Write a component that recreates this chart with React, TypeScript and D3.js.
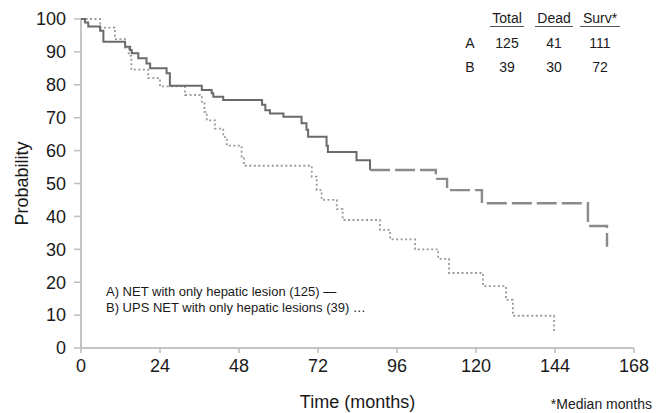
import React from "react";
import * as d3 from "d3";

// ---- data (months, survival %) ----
const seriesA: [number, number][] = [
  [0, 100], [1.2, 98.9], [2.2, 97.7], [5.8, 96.4], [6.8, 93.1], [13.4, 91.6], [14.9, 90.6],
  [15.4, 89.6], [17.4, 88.1], [19.9, 86.5], [21, 85.0], [26, 83.5], [27, 79.7], [36.7, 78.4],
  [39.7, 77.4], [40.2, 76.4], [43.2, 75.4], [55, 73.9], [56, 72.3], [57.4, 71.3], [61.5, 70.3],
  [67, 68.3], [68.5, 66.3], [69, 64.2], [74.6, 61.5], [75, 59.6], [83.7, 57.1], [87.8, 54.1],
];
const seriesA2: [number, number][] = [
  [87.8, 54.1], [107.8, 51.4], [111.2, 48.0], [121.8, 44.0], [154, 37.1], [159.8, 30.8],
];
const seriesB: [number, number][] = [
  [0, 100], [5.8, 97.4], [10.3, 93.9], [13.4, 91.3], [14.5, 88.8], [15.3, 84.6], [20.4, 82.0],
  [24, 79.5], [31.6, 76.9], [36.7, 74.4], [37.5, 71.8], [38.2, 69.2], [40.7, 66.7], [43.2, 64.1],
  [44.3, 61.5], [48.8, 58.2], [49.5, 55.4], [70.1, 52.1], [71.6, 48.0], [73.1, 45.0], [77.7, 42.2],
  [79.5, 38.9], [90.8, 35.9], [93.9, 33.0], [101.5, 30.0], [108.5, 27.1], [111.8, 22.8],
  [122.1, 18.8], [129.1, 14.6], [131.2, 9.8], [143.7, 4.7],
];
const xTicks = [0, 24, 48, 72, 96, 120, 144, 168];
const yTicks = [0, 10, 20, 30, 40, 50, 60, 70, 80, 90, 100];
const tableHeaders = ["Total", "Dead", "Surv*"];
const tableRows = [
  { label: "A", values: ["125", "41", "111"] },
  { label: "B", values: ["39", "30", "72"] },
];
const legendLines = [
  "A) NET with only hepatic lesion (125) \u2014",
  "B) UPS NET with only hepatic lesions (39) \u2026",
];

const W = 662;
const H = 413;
const FONT = "'Liberation Sans', Arial, Helvetica, sans-serif";

export default function App() {
  const x = d3.scaleLinear().domain([0, 168]).range([81, 634]);
  const y = d3.scaleLinear().domain([0, 100]).range([348, 19]);
  const line = d3
    .line<[number, number]>()
    .x((d) => x(d[0]))
    .y((d) => y(d[1]))
    .curve(d3.curveStepAfter);

  const colX = [507, 554, 600];

  return (
    <svg
      width={W}
      height={H}
      style={{ position: "absolute", left: 0, top: 0, background: "#fff" }}
      fontFamily={FONT}
    >
      <rect width={W} height={H} fill="#fff" />
      {/* axes */}
      <line x1={x(0)} x2={x(0)} y1={y(100) - 1} y2={y(0)} stroke="#c4c4c4" strokeWidth={2} />
      <line x1={x(0)} x2={x(168)} y1={y(0)} y2={y(0)} stroke="#c4c4c4" strokeWidth={2} />
      {yTicks.map((t) => (
        <g key={"y" + t}>
          <line x1={x(0) - 7} x2={x(0)} y1={y(t)} y2={y(t)} stroke="#bdbdbd" strokeWidth={1.5} />
          <text x={66} y={y(t)} dy="0.35em" textAnchor="end" fontSize={18} fill="#1a1a1a">
            {t}
          </text>
        </g>
      ))}
      {xTicks.map((t) => (
        <g key={"x" + t}>
          <line x1={x(t)} x2={x(t)} y1={y(0)} y2={y(0) + 5} stroke="#bdbdbd" strokeWidth={1.5} />
          <text x={x(t)} y={372} textAnchor="middle" fontSize={18} fill="#1a1a1a">
            {t}
          </text>
        </g>
      ))}
      <text x={(x(0) + x(168)) / 2} y={408} textAnchor="middle" fontSize={18} fill="#1a1a1a">
        Time (months)
      </text>
      <text
        transform={`translate(28,${(y(0) + y(100)) / 2}) rotate(-90)`}
        textAnchor="middle"
        fontSize={18}
        fill="#1a1a1a"
      >
        Probability
      </text>
      <text x={652} y={409} textAnchor="end" fontSize={14} fill="#1a1a1a">
        *Median months
      </text>

      {/* curves */}
      <path d={line(seriesB) || ""} fill="none" stroke="#9a9a9a" strokeWidth={1.8} strokeDasharray="2,2.5" />
      <path d={line(seriesA) || ""} fill="none" stroke="#6a6a6a" strokeWidth={2} />
      <path d={line(seriesA2) || ""} fill="none" stroke="#8a8a8a" strokeWidth={2.4} strokeDasharray="20,5" />

      {/* table */}
      {tableHeaders.map((h, i) => (
        <g key={h}>
          <text x={colX[i]} y={23} textAnchor="middle" fontSize={14} fill="#1a1a1a">
            {h}
          </text>
          <line
            x1={colX[i] - (i === 0 ? 17 : i === 1 ? 19 : 20)}
            x2={colX[i] + (i === 0 ? 17 : i === 1 ? 19 : 20)}
            y1={26.5}
            y2={26.5}
            stroke="#555"
            strokeWidth={1}
          />
        </g>
      ))}
      {tableRows.map((r, ri) => (
        <g key={r.label}>
          <text x={470} y={48 + ri * 24} textAnchor="middle" fontSize={14} fill="#1a1a1a">
            {r.label}
          </text>
          {r.values.map((v, i) => (
            <text key={i} x={colX[i]} y={48 + ri * 24} textAnchor="middle" fontSize={14} fill="#1a1a1a">
              {v}
            </text>
          ))}
        </g>
      ))}

      {/* legend */}
      {legendLines.map((l, i) => (
        <text key={i} x={106} y={296 + i * 16} fontSize={13} fill="#1a1a1a">
          {l}
        </text>
      ))}
    </svg>
  );
}
